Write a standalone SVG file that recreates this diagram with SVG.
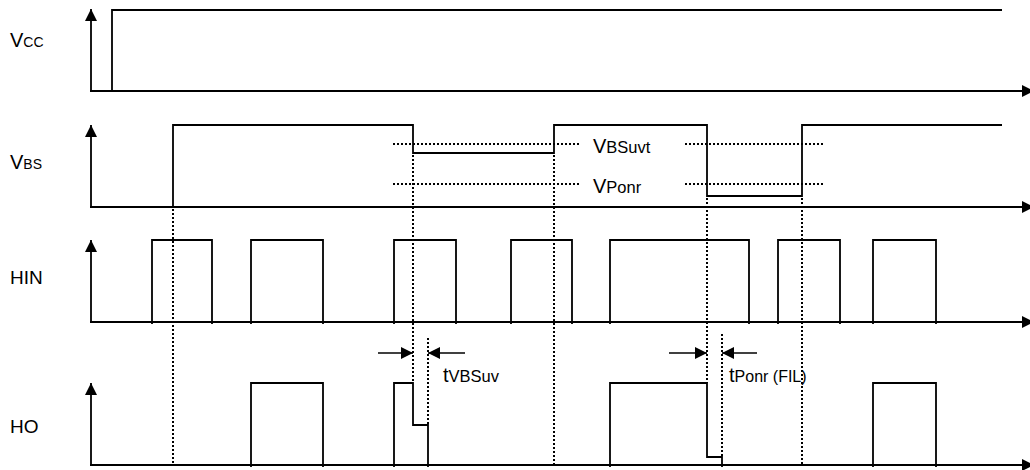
<svg xmlns="http://www.w3.org/2000/svg" width="1030" height="470" viewBox="0 0 1030 470">
<defs>
<marker id="ah" markerUnits="userSpaceOnUse" markerWidth="13" markerHeight="12" refX="12" refY="6" orient="auto" viewBox="0 0 13 12"><path d="M0,0 L12,6 L0,12 Z" fill="#000"/></marker>
</defs>
<style>
.ax{fill:none;stroke:#000;stroke-width:1.8}
.sig{fill:none;stroke:#000;stroke-width:1.8;stroke-linejoin:miter}
.dot{fill:none;stroke:#000;stroke-width:2;stroke-dasharray:2 2}
.dim{fill:none;stroke:#000;stroke-width:1.3}
.lbl{font-family:"Liberation Sans",Arial,sans-serif;fill:#000}
</style>
<rect width="1030" height="470" fill="#fff"/>

<g id="vcc">
<line class="ax" x1="91" y1="91" x2="91" y2="9" marker-end="url(#ah)"/>
<line class="ax" x1="90" y1="91" x2="1034" y2="91" marker-end="url(#ah)"/>
<path class="sig" d="M112,91 L112,10 L1002,10"/>
<text class="lbl" x="10" y="47"><tspan font-size="20">V</tspan><tspan font-size="14">CC</tspan></text>
</g>

<g id="vbs">
<line class="ax" x1="91" y1="207" x2="91" y2="125" marker-end="url(#ah)"/>
<line class="ax" x1="90" y1="207" x2="1034" y2="207" marker-end="url(#ah)"/>
<path class="sig" d="M173,207 L173,125 L413,125 L413,153 L554,153 L554,125 L707,125 L707,196 L802,196 L802,125 L1002,125"/>
<text class="lbl" x="10" y="169"><tspan font-size="20">V</tspan><tspan font-size="14">BS</tspan></text>
</g>

<g id="hin">
<line class="ax" x1="91" y1="322" x2="91" y2="240" marker-end="url(#ah)"/>
<line class="ax" x1="90" y1="322" x2="1034" y2="322" marker-end="url(#ah)"/>
<path class="sig" d="M152,324 L152,240 L212,240 L212,324 M251,324 L251,240 L323,240 L323,324 M394,324 L394,240 L456,240 L456,324 M511,324 L511,240 L572,240 L572,324 M610,324 L610,240 L749,240 L749,324 M778,324 L778,240 L840,240 L840,324 M873,324 L873,240 L936,240 L936,324"/>
<text class="lbl" x="10" y="284" font-size="19">HIN</text>
</g>

<g id="ho">
<line class="ax" x1="91" y1="465" x2="91" y2="383" marker-end="url(#ah)"/>
<line class="ax" x1="90" y1="465" x2="1034" y2="465" marker-end="url(#ah)"/>
<path class="sig" d="M251,467 L251,383 L323,383 L323,467 M394,467 L394,383 L413,383 L413,425 L428,425 L428,467 M610,467 L610,383 L707,383 L707,457 L722,457 L722,467 M873,467 L873,383 L936,383 L936,467"/>
<text class="lbl" x="10" y="433" font-size="19">HO</text>
</g>

<g id="connectors">
<line class="dot" x1="173" y1="209" x2="173" y2="465"/>
<line class="dot" x1="413" y1="155" x2="413" y2="383"/>
<line class="dot" x1="554" y1="155" x2="554" y2="465"/>
<line class="dot" x1="707" y1="198" x2="707" y2="383"/>
<line class="dot" x1="802" y1="198" x2="802" y2="465"/>
<line class="dot" x1="428" y1="338" x2="428" y2="425"/>
<line class="dot" x1="722" y1="334" x2="722" y2="457"/>
<line class="dot" x1="393" y1="144" x2="579" y2="144"/>
<line class="dot" x1="393" y1="184" x2="579" y2="184"/>
<line class="dot" x1="685" y1="144" x2="824" y2="144"/>
<line class="dot" x1="685" y1="184" x2="824" y2="184"/>
<line class="dim" x1="378" y1="353" x2="413" y2="353" marker-end="url(#ah)"/>
<line class="dim" x1="465" y1="353" x2="428" y2="353" marker-end="url(#ah)"/>
<line class="dim" x1="669" y1="353" x2="707" y2="353" marker-end="url(#ah)"/>
<line class="dim" x1="757" y1="353" x2="722" y2="353" marker-end="url(#ah)"/>
</g>

<g id="annotations">
<text class="lbl" x="593" y="153"><tspan font-size="20">V</tspan><tspan font-size="16.5">BSuvt</tspan></text>
<text class="lbl" x="593" y="193"><tspan font-size="20">V</tspan><tspan font-size="16.5">Ponr</tspan></text>
<text class="lbl" x="443" y="382"><tspan font-size="20">t</tspan><tspan font-size="16.5">VBSuv</tspan></text>
<text class="lbl" x="729" y="382"><tspan font-size="20">t</tspan><tspan font-size="16">Ponr (FIL)</tspan></text>
</g>
</svg>
